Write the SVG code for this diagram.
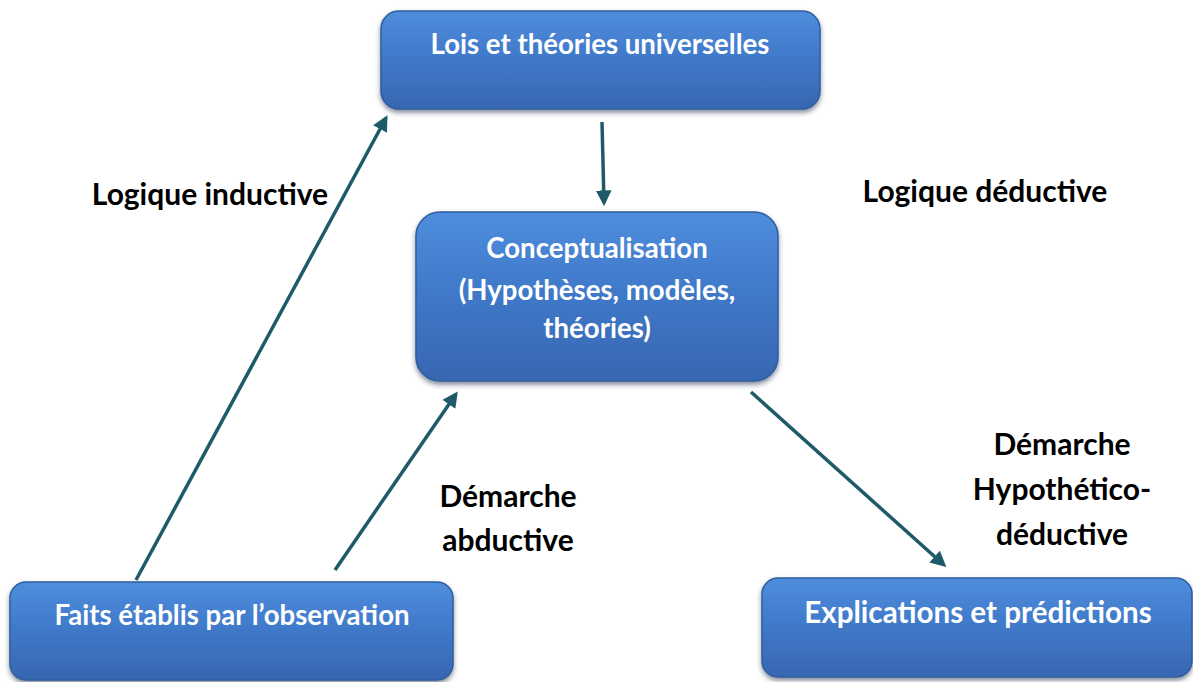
<svg xmlns="http://www.w3.org/2000/svg" width="1193" height="682" viewBox="0 0 1193 682">
  <style>
    .box { fill: url(#boxFill); stroke: #2f5d9e; stroke-width: 1.5; filter: url(#shadow); }
    .nodeText { font-family: Lato, "Open Sans", sans-serif; font-weight: bold; fill: #ffffff; text-anchor: middle; font-size: 27.6px; }
    .nodeText.big { font-size: 29.6px; }
    .label { font-family: Lato, "Open Sans", sans-serif; font-weight: bold; fill: #000000; font-size: 30px; text-anchor: middle; }
    .conn { stroke: #1f5a68; stroke-width: 3.5; fill: none; marker-end: url(#arrow); }
  </style>
  <defs>
    <linearGradient id="boxFill" x1="0" y1="0" x2="0" y2="1">
      <stop offset="0" stop-color="#4f8ddd"/>
      <stop offset="0.5" stop-color="#3f78c8"/>
      <stop offset="1" stop-color="#3866b0"/>
    </linearGradient>
    <filter id="shadow" x="-5%" y="-10%" width="110%" height="125%">
      <feDropShadow dx="0" dy="3" stdDeviation="2.5" flood-color="#1d2f4d" flood-opacity="0.55"/>
    </filter>
    <marker id="arrow" viewBox="0 0 10 10" refX="8" refY="5" markerWidth="4.5" markerHeight="4.5" orient="auto" markerUnits="strokeWidth">
      <path d="M0,0 L10,5 L0,10 z" fill="#1f5a68"/>
    </marker>
  </defs>

  <rect width="1193" height="682" fill="#ffffff"/>

  <!-- connectors -->
  <g id="connectors">
    <line class="conn" x1="136" y1="580" x2="386" y2="118"/>
    <line class="conn" x1="602" y1="122" x2="604" y2="203"/>
    <line class="conn" x1="335" y1="570" x2="456" y2="394"/>
    <line class="conn" x1="751" y1="392" x2="944" y2="565"/>
  </g>

  <!-- nodes -->
  <g id="node-lois">
    <rect class="box" x="381" y="11" width="439" height="98" rx="18"/>
    <text class="nodeText" x="600" y="54">Lois et théories universelles</text>
  </g>
  <g id="node-conceptualisation">
    <rect class="box" x="416" y="212" width="362" height="169" rx="24"/>
    <text class="nodeText" x="597" y="258">Conceptualisation</text>
    <text class="nodeText" x="597" y="300">(Hypothèses, modèles,</text>
    <text class="nodeText" x="597" y="338">théories)</text>
  </g>
  <g id="node-faits">
    <rect class="box" x="10" y="582" width="443" height="98" rx="16"/>
    <text class="nodeText" x="232" y="625">Faits établis par l’observation</text>
  </g>
  <g id="node-explications">
    <rect class="box" x="762" y="578" width="430" height="99" rx="16"/>
    <text class="nodeText big" x="978" y="623">Explications et prédictions</text>
  </g>

  <!-- labels -->
  <g id="labels">
    <text class="label" x="210" y="205">Logique inductive</text>
    <text class="label" x="985" y="202">Logique déductive</text>
    <text class="label" x="508" y="507">Démarche</text>
    <text class="label" x="508" y="551">abductive</text>
    <text class="label" x="1062" y="455">Démarche</text>
    <text class="label" x="1062" y="500">Hypothético-</text>
    <text class="label" x="1062" y="545">déductive</text>
  </g>
</svg>
